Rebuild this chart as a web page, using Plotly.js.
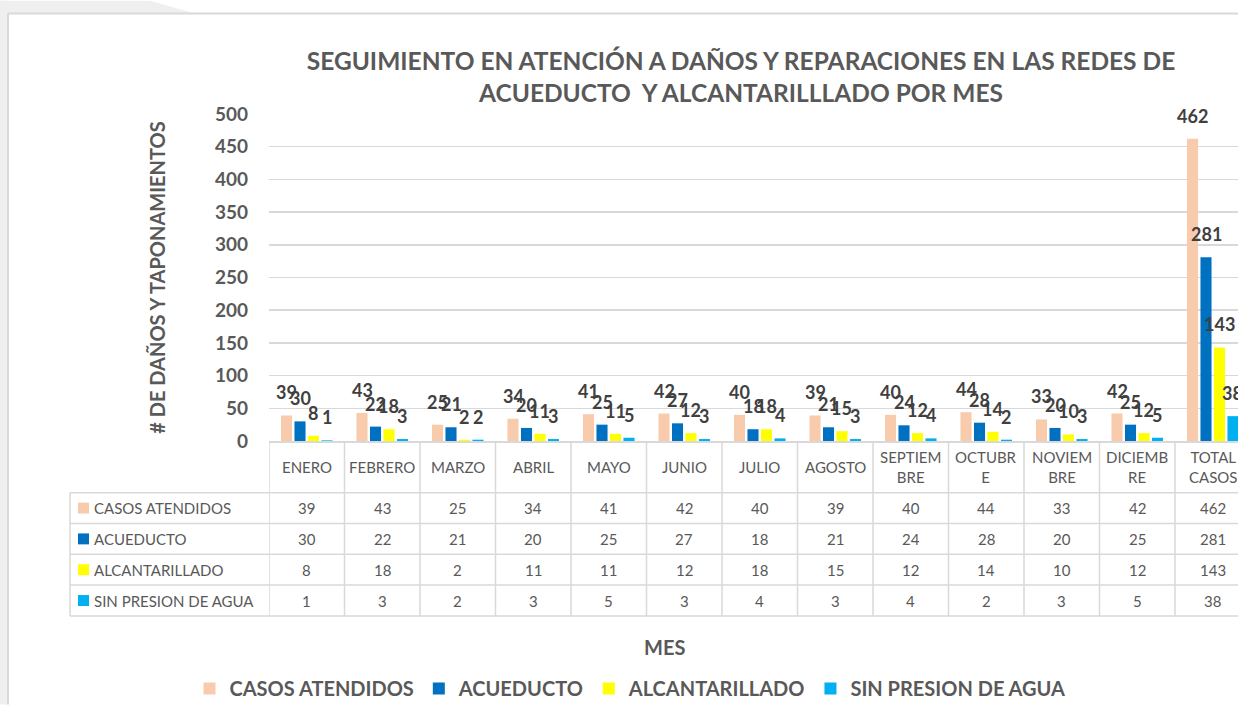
<!DOCTYPE html>
<html>
<head>
<meta charset="utf-8">
<script src="https://cdn.plot.ly/plotly-3.0.1.min.js"></script>
<style>
  html, body { margin: 0; padding: 0; background: #ffffff; overflow: hidden; }
  #chart { width: 1238px; height: 708px; }
</style>
</head>
<body>
<div id="chart"></div>
<script>
// ---------- DATA ----------
const categories = ["ENERO", "FEBRERO", "MARZO", "ABRIL", "MAYO", "JUNIO", "JULIO", "AGOSTO",
  "SEPTIEMBRE", "OCTUBRE", "NOVIEMBRE", "DICIEMBRE", "TOTAL CASOS"];
const headerLabels = ["ENERO", "FEBRERO", "MARZO", "ABRIL", "MAYO", "JUNIO", "JULIO", "AGOSTO",
  "SEPTIEM<br>BRE", "OCTUBR<br>E", "NOVIEM<br>BRE", "DICIEMB<br>RE", "TOTAL<br>CASOS"];
const seriesNames = ["CASOS ATENDIDOS", "ACUEDUCTO", "ALCANTARILLADO", "SIN PRESION DE AGUA"];
const casosAtendidos = [39, 43, 25, 34, 41, 42, 40, 39, 40, 44, 33, 42, 462];
const acueducto      = [30, 22, 21, 20, 25, 27, 18, 21, 24, 28, 20, 25, 281];
const alcantarillado = [8, 18, 2, 11, 11, 12, 18, 15, 12, 14, 10, 12, 143];
const sinPresion     = [1, 3, 2, 3, 5, 3, 4, 3, 4, 2, 3, 5, 38];
const chartTitle = "SEGUIMIENTO EN ATENCIÓN A DAÑOS Y REPARACIONES EN LAS REDES DE<br>ACUEDUCTO  Y ALCANTARILLLADO POR MES";
const yTitle = "# DE DAÑOS Y TAPONAMIENTOS";
const xTitle = "MES";

// ---------- STYLE / LAYOUT CONSTANTS ----------
const allSeries = [casosAtendidos, acueducto, alcantarillado, sinPresion];
const colors = ["#F8CBAD", "#0070C0", "#FFFF00", "#00B0F0"];
const FONT = "Lato, 'Open Sans', sans-serif";
const GRAY = "#595959";
const LINE = "#d9d9d9";
const W = 1238, H = 708;
const ML = 269, MT = 114, MB = 265, MR = 0;
const plotW = W - ML - MR, plotH = H - MT - MB;
const catPx = 75.5;
const xMax = -0.5 + plotW / catPx;
const bargap = 0.285, bargroupgap = 0.18;
const slotPx = catPx * (1 - bargap) / allSeries.length;

const px2x = px => (px - ML) / plotW;     // page px -> paper x
const py2y = py => (H - MB - py) / plotH; // page py -> paper y

const traces = allSeries.map((vals, i) => ({
  type: "bar",
  name: seriesNames[i],
  x: categories,
  y: vals,
  marker: { color: colors[i] },
  hovertemplate: "%{x}: %{y}<extra>" + seriesNames[i] + "</extra>"
}));

const annotations = [];
// data labels above bars
allSeries.forEach((vals, i) => {
  vals.forEach((v, j) => {
    annotations.push({
      x: categories[j], y: v, xref: "x", yref: "y",
      text: String(v), showarrow: false,
      xshift: (i - (allSeries.length - 1) / 2) * slotPx,
      yshift: 23, yanchor: "middle", xanchor: "center",
      font: { family: FONT, size: 18, color: "#404040", weight: 700 }
    });
  });
});

// table header (month labels)
const headerTop = H - MB, headerBottom = 495, rowH = 31;
headerLabels.forEach((lab, j) => {
  annotations.push({
    x: categories[j], y: py2y((headerTop + headerBottom) / 2), xref: "x", yref: "paper",
    text: lab, showarrow: false, xanchor: "center", yanchor: "middle",
    font: { family: FONT, size: 15, color: GRAY }
  });
});
// table body
allSeries.forEach((vals, i) => {
  const cy = headerBottom + rowH * (i + 0.5);
  vals.forEach((v, j) => {
    annotations.push({
      x: categories[j], y: py2y(cy), xref: "x", yref: "paper",
      text: String(v), showarrow: false, xanchor: "center", yanchor: "middle",
      font: { family: FONT, size: 15, color: GRAY }
    });
  });
  annotations.push({
    x: px2x(92), y: py2y(cy), xref: "paper", yref: "paper",
    text: seriesNames[i], showarrow: false, xanchor: "left", yanchor: "middle",
    font: { family: FONT, size: 15, color: GRAY }
  });
});
// x axis title
annotations.push({
  x: px2x(664), y: py2y(650), xref: "paper", yref: "paper",
  text: xTitle, showarrow: false, xanchor: "center", yanchor: "middle",
  font: { family: FONT, size: 20, color: GRAY, weight: 700 }
});

const shapes = [];
// page background (outside chart box)
shapes.push({ type: "rect", xref: "paper", yref: "paper", x0: px2x(0), x1: px2x(8), y0: py2y(H), y1: py2y(0),
  fillcolor: "#efefef", line: { width: 0 }, layer: "below" });
shapes.push({ type: "path", xref: "paper", yref: "paper",
  path: `M ${px2x(0)} ${py2y(0)} L ${px2x(150)} ${py2y(0)} L ${px2x(195)} ${py2y(13)} L ${px2x(0)} ${py2y(13)} Z`,
  fillcolor: "#efefef", line: { width: 0 }, layer: "below" });
// chart box border
shapes.push({ type: "line", xref: "paper", yref: "paper", x0: px2x(8), x1: px2x(W), y0: py2y(13), y1: py2y(13),
  line: { color: LINE, width: 2 } });
shapes.push({ type: "line", xref: "paper", yref: "paper", x0: px2x(8), x1: px2x(8), y0: py2y(13), y1: py2y(H),
  line: { color: LINE, width: 2 } });
// table horizontal lines
for (let r = 0; r <= allSeries.length; r++) {
  const yy = headerBottom + rowH * r;
  shapes.push({ type: "line", xref: "paper", yref: "paper", x0: px2x(70), x1: px2x(W), y0: py2y(yy), y1: py2y(yy),
    line: { color: LINE, width: 1.5 } });
}
const tableBottom = headerBottom + rowH * allSeries.length;
// table vertical lines
shapes.push({ type: "line", xref: "paper", yref: "paper", x0: px2x(70), x1: px2x(70), y0: py2y(headerBottom), y1: py2y(tableBottom),
  line: { color: LINE, width: 1.5 } });
for (let j = 0; j < categories.length; j++) {
  shapes.push({ type: "line", xref: "x", yref: "paper", x0: j - 0.5, x1: j - 0.5, y0: 0, y1: py2y(tableBottom),
    line: { color: LINE, width: 1.5 } });
}
// legend keys in table
allSeries.forEach((vals, i) => {
  const cy = headerBottom + rowH * (i + 0.5);
  shapes.push({ type: "rect", xref: "paper", yref: "paper",
    x0: px2x(78), x1: px2x(89), y0: py2y(cy - 5.5), y1: py2y(cy + 5.5),
    fillcolor: colors[i], line: { width: 0 } });
});

const layout = {
  width: W, height: H,
  margin: { l: ML, r: MR, t: MT, b: MB, pad: 0 },
  paper_bgcolor: "#ffffff",
  plot_bgcolor: "#ffffff",
  font: { family: FONT, color: GRAY },
  title: {
    text: chartTitle,
    font: { family: FONT, size: 24.5, color: GRAY, weight: 700 },
    xref: "container", yref: "container",
    x: 741 / W, xanchor: "center",
    y: 1 - 70 / H, yanchor: "middle"
  },
  barmode: "group",
  bargap: bargap,
  bargroupgap: bargroupgap,
  xaxis: {
    type: "category",
    range: [-0.5, xMax],
    showticklabels: false,
    ticks: "",
    showgrid: false,
    zeroline: false,
    showline: true,
    linecolor: LINE,
    linewidth: 1.5,
    fixedrange: true
  },
  yaxis: {
    range: [0, 500],
    dtick: 50,
    tick0: 0,
    ticks: "",
    ticklabelstandoff: 20,
    tickfont: { family: FONT, size: 19, color: GRAY, weight: 700 },
    showgrid: true,
    gridcolor: LINE,
    gridwidth: 1.5,
    zeroline: false,
    showline: false,
    title: {
      text: yTitle,
      font: { family: FONT, size: 20, color: GRAY, weight: 700 },
      standoff: 43
    },
    fixedrange: true
  },
  showlegend: true,
  legend: {
    orientation: "h",
    x: px2x(630), xanchor: "center",
    y: py2y(692), yanchor: "middle",
    font: { family: FONT, size: 20, color: GRAY, weight: 700 },
    bgcolor: "rgba(0,0,0,0)"
  },
  annotations: annotations,
  shapes: shapes
};

Plotly.newPlot("chart", traces, layout, { displayModeBar: false, staticPlot: true });
</script>
</body>
</html>
